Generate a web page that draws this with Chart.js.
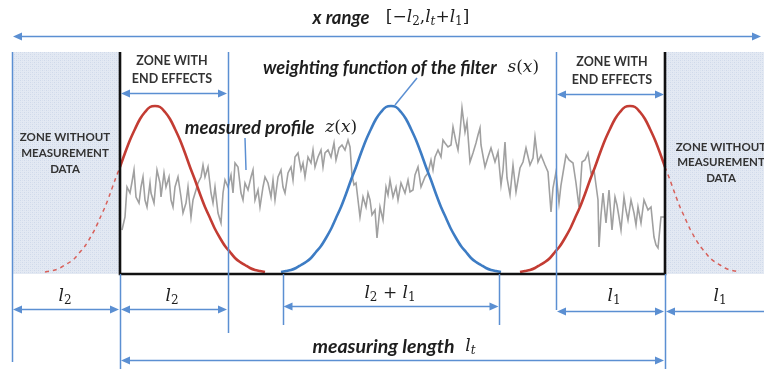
<!DOCTYPE html>
<html>
<head>
<meta charset="utf-8">
<script src="https://cdn.jsdelivr.net/npm/chart.js@4.4.1/dist/chart.umd.min.js"></script>
<style>
    html, body { margin: 0; padding: 0; background: #fff; }
    canvas { display: block; }
</style>
</head>
<body>
<canvas id="diagram" width="764" height="369"></canvas>
<script>
/* ================= DATA ================= */

// lengths along the profile (0 = start of the measuring length)
const l2 = 108;
const l1 = 109;
const lt = 545;
const zoneTop = 222;

// measured profile z(x)
const profileX = [2,5,7,10,12,14,16,19,21,23,25,27,30,31,34,37,40,41,44,46,49,51,53,55,58,61,63,66,68,71,73,76,78,81,83,85,88,91,93,95,98,101,103,105,108,
    111,113,115,118,121,123,125,128,131,133,135,138,140,143,145,148,151,153,155,158,161,163,165,168,171,173,175,178,181,183,185,188,191,193,195,198,201,203,205,208,211,214,216,219,
    222,225,228,230,232,234,236,238,240,243,246,248,250,252,255,257,260,263,266,268,270,273,276,278,281,285,288,290,293,295,298,301,305,308,311,313,315,318,321,323,325,328,
    331,333,336,338,340,342,345,347,350,353,356,358,360,361,365,368,371,375,378,381,383,385,387,390,393,396,400,403,406,410,413,415,418,421,425,428,431,433,436,
    439,441,443,446,449,453,456,459,462,465,468,471,474,476,478,479,481,483,486,489,492,495,497,499,501,504,506,508,511,514,516,518,521,524,528,531,534,536,538,541,544];
const profileZ = [44,57,87,81,92,104,77,71,87,97,74,67,91,81,71,104,91,77,101,87,97,74,67,87,97,77,61,71,87,57,74,84,91,97,109,97,107,81,71,87,61,51,81,94,87,
    99,81,111,107,81,74,91,84,97,104,74,84,67,87,97,91,77,94,74,97,104,87,81,101,107,94,117,121,104,111,97,117,111,124,107,117,124,107,121,124,117,131,114,126,
    129,124,134,127,99,89,91,74,57,77,67,81,74,59,64,36,67,54,87,79,94,77,87,74,91,81,94,82,84,99,107,87,97,101,114,104,117,124,117,134,131,127,
    129,147,132,124,142,166,142,152,112,121,131,139,146,129,107,117,126,112,122,89,104,132,96,79,109,82,106,112,126,109,116,137,112,119,109,102,62,86,102,
    71,89,101,119,114,111,91,67,112,114,121,101,104,89,74,27,59,81,51,84,44,77,69,57,44,77,64,54,74,61,49,67,51,74,64,67,37,29,26,57,57];

// weighting function s(x): offset from its centre, height
const weightOffset = [-110,-105,-100,-95,-90,-85,-80,-75,-70,-65,-60,-55,-50,-45,-40,-35,-30,-25,-20,-15,-10,-5,0,
    5,10,15,20,25,30,35,40,45,50,55,60,65,70,75,80,85,90,95,100,105,110];
const weightHeight = [2,3,4,6,9,12,16,22,28,36,45,56,67,80,94,107,121,134,145,155,162,167,168,
    167,162,155,145,134,121,107,94,80,67,56,45,36,28,22,16,12,9,6,4,3,2];

// where the filter window sits: at the start, the middle and the end
const filterStart = 35;
const filterMiddle = 271;
const filterEnd = 510;

/* ================= ANNOTATION LAYOUT ================= */

const guides = [
    [-l2, zoneTop, -88],
    [0, 0, -100],
    [l2, zoneTop, -59],
    [filterMiddle - (l1 + l2) / 2, 0, -51],
    [filterMiddle + (l1 + l2) / 2, 0, -51],
    [lt - l1, zoneTop, -36],
    [lt, 0, -100]
];

const arrows = [
    [-l2, 642, 238],
    [0, l2, 181],
    [lt - l1, lt, 180],
    [-l2, 0, -35],
    [0, l2, -35],
    [filterMiddle - (l1 + l2) / 2, filterMiddle + (l1 + l2) / 2, -32],
    [lt - l1, lt, -37],
    [lt, lt + l1, -37],
    [0, lt, -86]
];

const leaders = [
    [[297, 196], [275, 169]],
    [[125, 136], [126, 104]]
];

const F_M = "17px 'DejaVu Serif'";
const F_MI = "italic 17px 'DejaVu Serif'";
const F_SUB = "12px 'DejaVu Serif'";
const F_SUBI = "italic 12px 'DejaVu Serif'";
const F_ZONE = "bold 12.5px Lato";
const F_ZONE2 = "bold 11.5px Lato";

const bi = (t, fit) => ({ t, font: "italic bold 15px Lato", fit });
const sub = (t, italic) => ({ t, font: italic ? F_SUBI : F_SUB, dy: 4 });
const ell = () => ({ t: "l", font: F_MI });

const richLabels = [
    { at: [271, 256], parts: [bi("x range", 57), { t: "   ", font: F_M }, { t: "[−", font: F_M }, ell(), sub("2"),
        { t: ",", font: F_M }, ell(), sub("t", true), { t: "+", font: F_M }, ell(), sub("1"), { t: "]", font: F_M }] },
    { at: [281, 206], parts: [bi("weighting function of the filter", 234), { t: "  ", font: F_M },
        { t: "s", font: F_MI }, { t: "(", font: F_M }, { t: "x", font: F_MI }, { t: ")", font: F_M }] },
    { at: [151, 146], parts: [bi("measured profile", 130), { t: "  ", font: F_M },
        { t: "z", font: F_MI }, { t: "(", font: F_M }, { t: "x", font: F_MI }, { t: ")", font: F_M }] },
    { at: [274, -73], parts: [bi("measuring length", 142), { t: "  ", font: F_M }, ell(), sub("t", true)] },
    { at: [-55, -23], parts: [ell(), sub("2")] },
    { at: [52, -23], parts: [ell(), sub("2")] },
    { at: [270, -20], parts: [ell(), sub("2"), { t: " + ", font: F_M }, ell(), sub("1")] },
    { at: [494, -23], parts: [ell(), sub("1")] },
    { at: [600, -23], parts: [ell(), sub("1")] }
];

const zoneLabels = [
    ["ZONE WITH", 52, 213, F_ZONE], ["END EFFECTS", 52, 195, F_ZONE],
    ["ZONE WITH", 492, 212, F_ZONE], ["END EFFECTS", 492, 194, F_ZONE],
    ["ZONE WITHOUT", -55, 137, F_ZONE2], ["MEASUREMENT", -55, 121, F_ZONE2], ["DATA", -55, 105, F_ZONE2],
    ["ZONE WITHOUT", 601, 127, F_ZONE2], ["MEASUREMENT", 601, 112, F_ZONE2], ["DATA", 601, 96, F_ZONE2]
];

/* ================= HELPERS ================= */

function pts(xs, zs) {
    return xs.map((v, i) => ({ x: v, y: zs[i] }));
}

function windowAt(centre, keep) {
    return weightOffset
        .map((o, i) => ({ x: centre + o, y: weightHeight[i] }))
        .filter(p => keep(p.x));
}

function zonePattern(ctx) {
    const c = document.createElement("canvas");
    c.width = 4; c.height = 4;
    const g = c.getContext("2d");
    g.fillStyle = "#e3e9f3";
    g.fillRect(0, 0, 4, 4);
    g.fillStyle = "#cfd9ea";
    g.fillRect(0, 0, 1, 1);
    g.fillRect(2, 2, 1, 1);
    g.fillStyle = "#d9e1ee";
    g.fillRect(2, 0, 1, 1);
    g.fillRect(0, 2, 1, 1);
    return ctx.createPattern(c, "repeat");
}

// bold italic captions are sized so they span the same width as in the picture
function fitFonts(ctx) {
    richLabels.forEach(l => l.parts.forEach(p => {
        if (!p.fit) return;
        ctx.font = p.font;
        const size = 15 * p.fit / ctx.measureText(p.t).width;
        p.font = "italic bold " + size.toFixed(1) + "px Lato";
    }));
}

function richWidth(ctx, parts) {
    let w = 0;
    parts.forEach(p => { ctx.font = p.font; w += ctx.measureText(p.t).width; });
    return w;
}

function drawRich(ctx, parts, cx, cy) {
    let px = cx - richWidth(ctx, parts) / 2;
    parts.forEach(p => {
        ctx.font = p.font;
        ctx.fillText(p.t, px, cy + (p.dy || 0));
        px += ctx.measureText(p.t).width;
    });
}

/* ================= ANNOTATIONS PLUGIN ================= */

const BLUE = "#5b8fd2";

const annotations = {
    id: "annotations",
    afterDatasetsDraw(chart) {
        const { ctx, scales: { x, y } } = chart;
        ctx.save();

        ctx.strokeStyle = BLUE;
        ctx.lineWidth = 1.5;
        guides.forEach(([gx, z1, z2]) => {
            const px = Math.round(x.getPixelForValue(gx)) + 0.5;
            ctx.beginPath();
            ctx.moveTo(px, y.getPixelForValue(z1));
            ctx.lineTo(px, y.getPixelForValue(z2));
            ctx.stroke();
        });

        leaders.forEach(([a, b]) => {
            ctx.beginPath();
            ctx.moveTo(x.getPixelForValue(a[0]), y.getPixelForValue(a[1]));
            ctx.lineTo(x.getPixelForValue(b[0]), y.getPixelForValue(b[1]));
            ctx.stroke();
        });

        ctx.fillStyle = BLUE;
        arrows.forEach(([x1, x2, z]) => {
            const p1 = x.getPixelForValue(x1) + 1;
            const p2 = x.getPixelForValue(x2) - 1;
            const py = Math.round(y.getPixelForValue(z)) + 0.5;
            ctx.beginPath();
            ctx.moveTo(p1 + 4, py);
            ctx.lineTo(p2 - 4, py);
            ctx.stroke();
            [[p1, 1], [p2, -1]].forEach(([tip, dir]) => {
                ctx.beginPath();
                ctx.moveTo(tip, py);
                ctx.lineTo(tip + dir * 9, py - 4);
                ctx.lineTo(tip + dir * 9, py + 4);
                ctx.closePath();
                ctx.fill();
            });
        });

        ctx.textBaseline = "middle";
        ctx.textAlign = "left";
        ctx.fillStyle = "#1e1e1e";
        fitFonts(ctx);
        richLabels.forEach(l => {
            drawRich(ctx, l.parts, x.getPixelForValue(l.at[0]), y.getPixelForValue(l.at[1]));
        });

        ctx.textAlign = "center";
        ctx.fillStyle = "#333333";
        zoneLabels.forEach(([t, lx, lz, font]) => {
            ctx.font = font;
            ctx.fillText(t, x.getPixelForValue(lx), y.getPixelForValue(lz));
        });

        ctx.restore();
    }
};

/* ================= CHART ================= */

const canvas = document.getElementById("diagram");
const pattern = zonePattern(canvas.getContext("2d"));

function curve(data, color, width, order, extra) {
    return Object.assign({
        data, borderColor: color, borderWidth: width, showLine: true,
        pointRadius: 0, fill: false, tension: 0.3, order
    }, extra || {});
}

new Chart(canvas, {
    type: "scatter",
    data: {
        datasets: [
            curve([{ x: -l2, y: zoneTop }, { x: 0, y: zoneTop }], "rgba(0,0,0,0)", 0, 10,
                { fill: "origin", backgroundColor: pattern, tension: 0 }),
            curve([{ x: lt, y: zoneTop }, { x: lt + l1 + 20, y: zoneTop }], "rgba(0,0,0,0)", 0, 10,
                { fill: "origin", backgroundColor: pattern, tension: 0 }),
            curve(pts(profileX, profileZ), "#a0a0a0", 1.6, 6, { tension: 0 }),
            curve(windowAt(filterMiddle, () => true), "#3d7cc4", 2.6, 3),
            curve(windowAt(filterStart, v => v >= 0), "#c33c33", 2.6, 3),
            curve(windowAt(filterStart, v => v <= 0), "#d8605a", 1.5, 3, { borderDash: [4, 4] }),
            curve(windowAt(filterEnd, v => v <= lt), "#c33c33", 2.6, 3),
            curve(windowAt(filterEnd, v => v >= lt), "#d8605a", 1.5, 3, { borderDash: [4, 4] }),
            curve([{ x: 0, y: zoneTop }, { x: 0, y: 0 }, { x: lt, y: 0 }, { x: lt, y: zoneTop }], "#111111", 2.6, 1, { tension: 0 })
        ]
    },
    options: {
        responsive: false,
        animation: false,
        devicePixelRatio: 1,
        layout: { padding: 0 },
        plugins: { legend: { display: false }, tooltip: { enabled: false } },
        scales: {
            x: { type: "linear", min: -120, max: 644, display: false },
            y: { type: "linear", min: -95, max: 274, display: false }
        }
    },
    plugins: [annotations]
});
</script>
</body>
</html>
